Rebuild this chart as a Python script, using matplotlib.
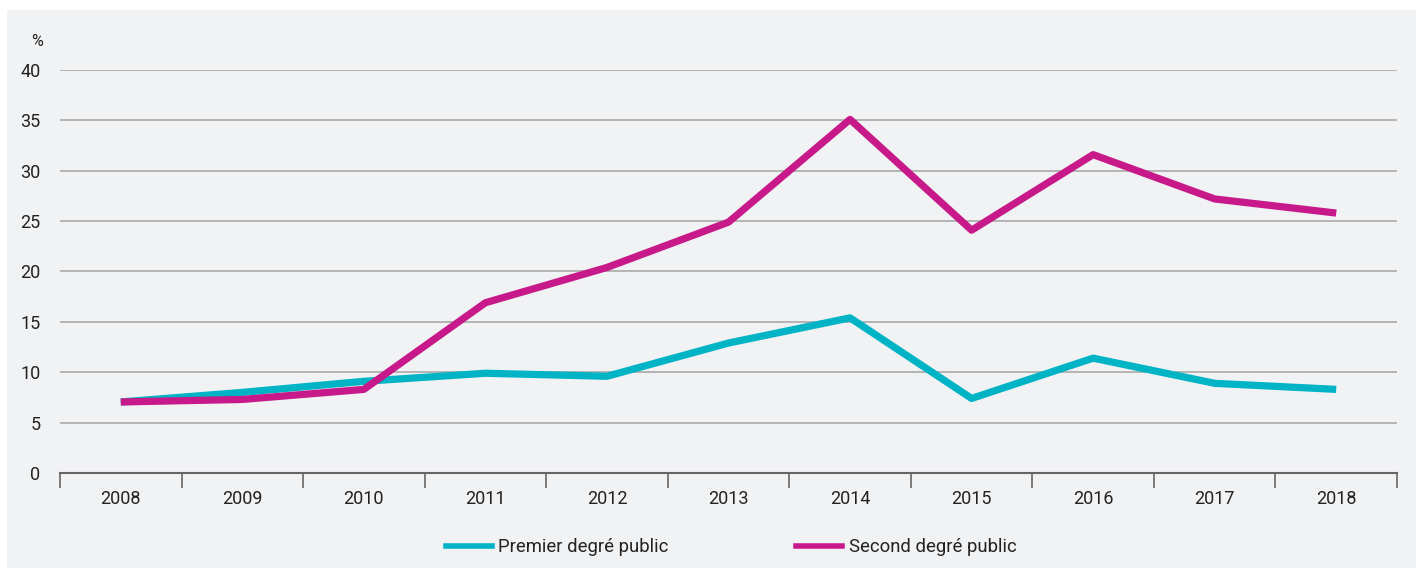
import matplotlib.pyplot as plt
from matplotlib.patches import Rectangle
from matplotlib.lines import Line2D

plt.rcParams['font.family'] = ['Roboto', 'DejaVu Sans']

# données
annees = ["2008", "2009", "2010", "2011", "2012", "2013", "2014", "2015", "2016", "2017", "2018"]
premier = [7.05, 8.0, 9.1, 9.9, 9.6, 12.9, 15.4, 7.4, 11.4, 8.9, 8.3]
second = [7.05, 7.3, 8.3, 16.9, 20.4, 24.9, 35.1, 24.1, 31.6, 27.2, 25.8]
yticks = [0, 5, 10, 15, 20, 25, 30, 35, 40]

bleu = "#00b4c5"
rose = "#c8198b"
fond = "#f1f2f4"

W, H = 1416, 568
fig = plt.figure(figsize=(W / 100, H / 100), dpi=100)
fig.patch.set_facecolor("white")
fig.patches.append(Rectangle((7 / W, 0), 1 - 7 / W, 1 - 10 / H,
                             transform=fig.transFigure, facecolor=fond,
                             edgecolor="none", zorder=-10))

ax = fig.add_axes([60 / W, (H - 473) / H, (1397 - 60) / W, (473 - 70) / H])
ax.set_facecolor(fond)
ax.patch.set_alpha(0)

x = list(range(len(annees)))
ax.plot(x, premier, color=bleu, lw=5.2, solid_capstyle="butt", solid_joinstyle="round", zorder=3)
ax.plot(x, second, color=rose, lw=5.2, solid_capstyle="butt", solid_joinstyle="round", zorder=4)

ax.set_xlim(-0.5, len(annees) - 0.5)
ax.set_ylim(0, 40)
ax.set_yticks(yticks)
ax.set_yticklabels([str(v) for v in yticks], fontsize=13, color="#222222")
ax.tick_params(axis="y", length=0, pad=14)
for v in yticks[1:]:
    ax.axhline(v, color="#a3a3a3", lw=1.1, zorder=1)

ax.set_xticks([i - 0.5 for i in range(len(annees) + 1)])
ax.set_xticklabels([])
ax.set_xticks(x, minor=True)
ax.set_xticklabels(annees, minor=True, fontsize=13, color="#222222")
ax.tick_params(axis="x", which="major", length=11, width=1.2, color="#666666", direction="out")
ax.tick_params(axis="x", which="minor", length=0, pad=12)

for s in ["top", "right", "left"]:
    ax.spines[s].set_visible(False)
ax.spines["bottom"].set_color("#666666")
ax.spines["bottom"].set_linewidth(1.5)

fig.text(37 / W, 1 - 42 / H, "%", fontsize=11.5, color="#222222", ha="center", va="center")

handles = [Line2D([], [], color=bleu, lw=4), Line2D([], [], color=rose, lw=4)]
fig.legend(handles, ["Premier degré public", "Second degré public"],
           loc="center", bbox_to_anchor=(731 / W, 1 - 547 / H), ncol=2,
           frameon=False, fontsize=13.3, handlelength=2.5, handletextpad=0.35,
           columnspacing=6.9, labelcolor="#222222")

fig.savefig("out.png", dpi=100)
